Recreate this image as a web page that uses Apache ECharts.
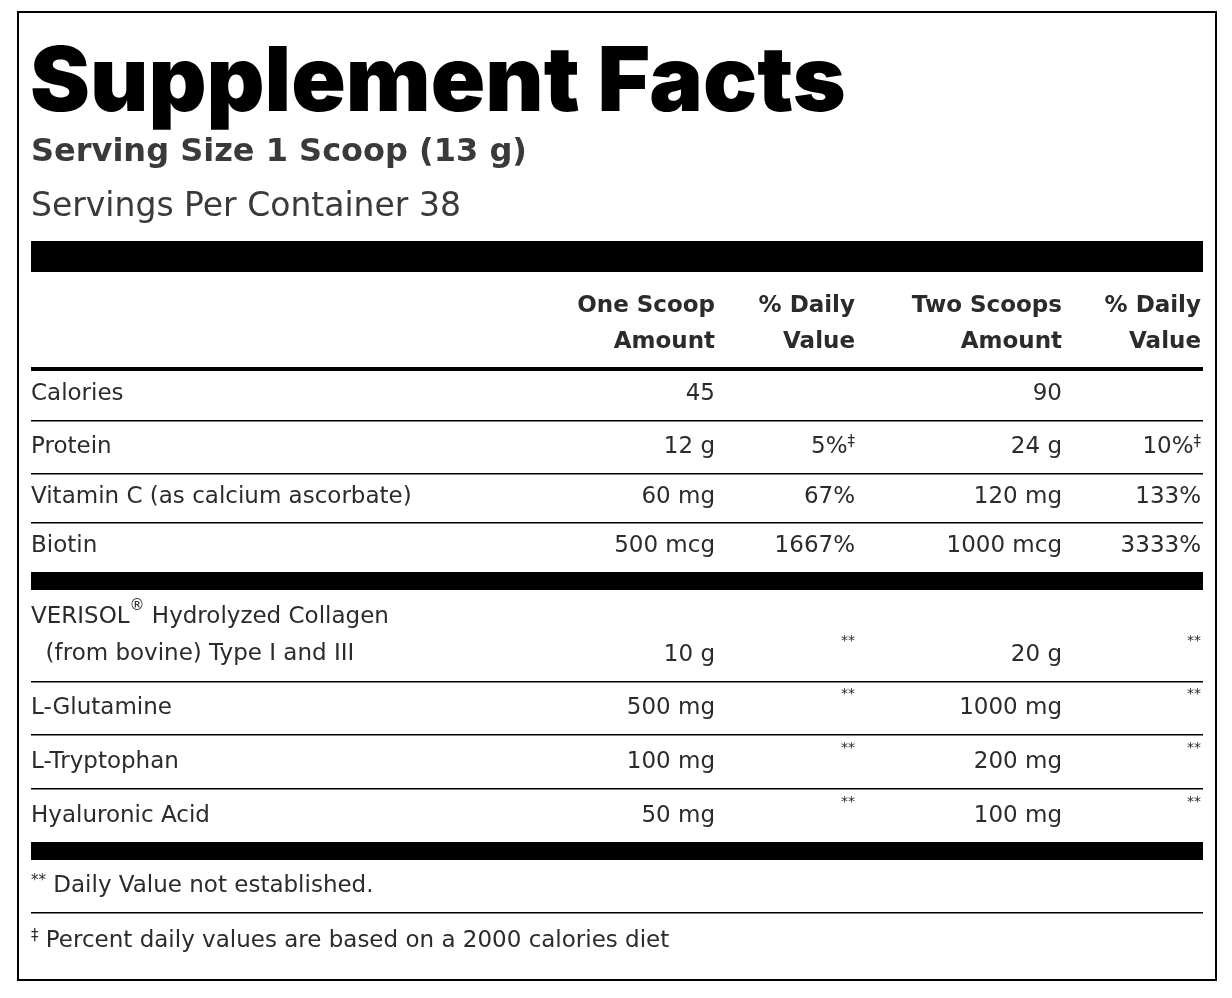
<![CDATA[<!DOCTYPE html>
<html><head><meta charset="utf-8">
<script src="https://cdn.jsdelivr.net/npm/echarts@6/dist/echarts.min.js"></script>
<style>html,body{margin:0;background:#fff}#c{width:1232px;height:998px}</style>
</head><body><div id="c"></div>
<script>
const title = "Supplement Facts";
const servingSize = "Serving Size 1 Scoop (13 g)";
const servingsPer = "Servings Per Container 38";
const headers1 = ["One Scoop", "% Daily", "Two Scoops", "% Daily"];
const headers2 = ["Amount", "Value", "Amount", "Value"];
const group1Names = ["Calories", "Protein", "Vitamin C (as calcium ascorbate)", "Biotin"];
const group1One = ["45", "12 g", "60 mg", "500 mcg"];
const group1OneDV = ["", "5%{s|‡}", "67%", "1667%"];
const group1Two = ["90", "24 g", "120 mg", "1000 mcg"];
const group1TwoDV = ["", "10%{s|‡}", "133%", "3333%"];
const group2Names = ["VERISOL{s|®} Hydrolyzed Collagen\n  (from bovine) Type I and III", "L-Glutamine", "L-Tryptophan", "Hyaluronic Acid"];
const group2One = ["10 g", "500 mg", "100 mg", "50 mg"];
const group2Two = ["20 g", "1000 mg", "200 mg", "100 mg"];
const group2DV = ["**", "**", "**", "**"];
const footnotes = ["{s|**} Daily Value not established.", "{s|‡} Percent daily values are based on a 2000 calories diet"];

const F = '"DejaVu Sans", sans-serif';
const C = '#2b2b2b';
const L = 31, R = 1203;
const colX = [715, 855, 1062, 1201];
const g = [];
const rich = {s:{fontSize:15, verticalAlign:'top', fill:C, fontFamily:F, padding:[0,0,10,0]}};
function txt(x,y,t,o){g.push({type:'text',x,y,style:Object.assign({text:t,fill:C,font:'23px '+F,textVerticalAlign:'middle',rich},o||{})});}
function bar(y,h){g.push({type:'rect',shape:{x:L,y,width:R-L,height:h},style:{fill:'#000'}});}
g.push({type:'rect',shape:{x:18,y:12,width:1198,height:968},style:{fill:'none',stroke:'#000',lineWidth:2}});
txt(30,84,title,{font:'900 90px Inter, sans-serif',fill:'#000'});
txt(31,153,servingSize,{font:'bold 32px '+F,fill:'#3a3a3a'});
txt(31,207,servingsPer,{font:'33px '+F,fill:'#3a3a3a'});
bar(241,31);
headers1.forEach((h,i)=>{txt(colX[i],306,h,{font:'bold 23px '+F,textAlign:'right'});txt(colX[i],342,headers2[i],{font:'bold 23px '+F,textAlign:'right'});});
bar(367,4);
const ys1=[394,447,497,546];
group1Names.forEach((n,i)=>{
  txt(L,ys1[i],n);
  txt(colX[0],ys1[i],group1One[i],{textAlign:'right'});
  txt(colX[1],ys1[i],group1OneDV[i],{textAlign:'right'});
  txt(colX[2],ys1[i],group1Two[i],{textAlign:'right'});
  txt(colX[3],ys1[i],group1TwoDV[i],{textAlign:'right'});
  if(i<3) bar([420,473,522][i],1.5);
});
bar(572,18);
const ys2=[655,708,762,816];
group2Names.forEach((n,i)=>{
  txt(L,i==0?636:ys2[i],n,{lineHeight:37});
  txt(colX[0],ys2[i],group2One[i],{textAlign:'right'});
  txt(colX[1],ys2[i]-14,group2DV[i],{textAlign:'right',font:'14px '+F});
  txt(colX[2],ys2[i],group2Two[i],{textAlign:'right'});
  txt(colX[3],ys2[i]-14,group2DV[i],{textAlign:'right',font:'14px '+F});
  if(i<3) bar([681,734,788][i],1.5);
});
bar(842,18);
txt(L,886,footnotes[0]);
bar(912,1.5);
txt(L,941,footnotes[1]);
const chart=echarts.init(document.getElementById('c'));
chart.setOption({animation:false,graphic:g});
</script></body></html>]]>
